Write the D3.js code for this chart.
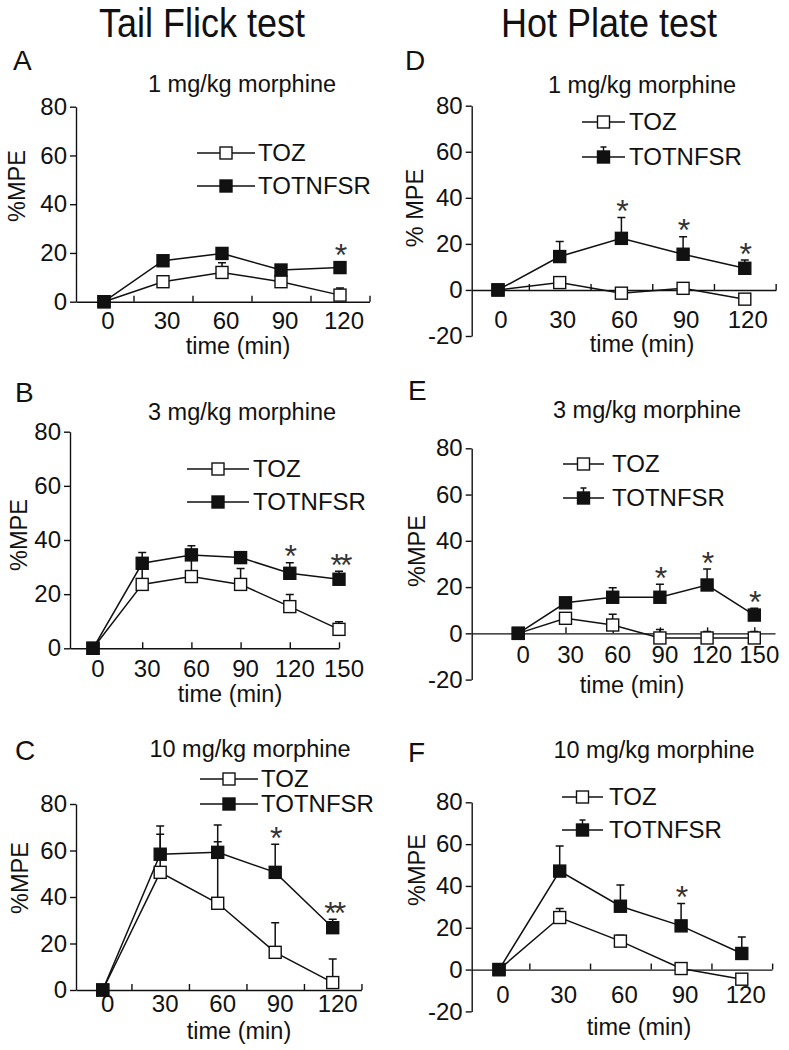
<!DOCTYPE html>
<html>
<head>
<meta charset="utf-8">
<script src="https://cdn.jsdelivr.net/npm/d3@7"></script>
<style>
  body { margin: 0; background: #fff; }
  svg { display: block; }
</style>
</head>
<body>
<svg id="chart" width="789" height="1050"></svg>
<script>
// ---------------- DATA ----------------
const columnTitles = ["Tail Flick test", "Hot Plate test"];
const panelLetters = ["A", "B", "C", "D", "E", "F"];
const doseLabels = ["1 mg/kg morphine", "3 mg/kg morphine", "10 mg/kg morphine"];
const seriesNames = ["TOZ", "TOTNFSR"];
const xAxisTitle = "time (min)";
const yAxisTitles = ["%MPE", "% MPE"];

const time5 = [0, 30, 60, 90, 120];
const time6 = [0, 30, 60, 90, 120, 150];
const yTicksTailFlick = [0, 20, 40, 60, 80];
const yTicksHotPlate = [-20, 0, 20, 40, 60, 80];
const xTickMarksMid = [15, 45, 75, 105, 135];
const xTickMarksOn = [30, 60, 90, 120, 150];

// Panel A: Tail flick, 1 mg/kg
const tozA = [0, 8.2, 12.0, 8.2, 2.7];
const tozErrA = [0, 1.5, 4.0, 1.5, 2.9];
const totA = [0, 16.8, 19.8, 13.0, 14.0];
const totErrA = [0, 1.5, 2.2, 1.5, 2.4];
const sigA = ["", "", "", "", "*"];

// Panel B: Tail flick, 3 mg/kg
const tozB = [0, 23.6, 26.5, 23.6, 15.4, 7.0];
const tozErrB = [0, 6.0, 7.0, 5.9, 4.5, 2.8];
const totB = [0, 31.4, 34.5, 33.5, 27.7, 25.5];
const totErrB = [0, 4.0, 3.4, 1.5, 3.9, 3.0];
const sigB = ["", "", "", "", "*", "**"];

// Panel C: Tail flick, 10 mg/kg
const tozC = [0, 50.6, 37.3, 16.2, 3.2];
const tozErrC = [0, 16.4, 26.5, 12.7, 10.1];
const totC = [0, 58.4, 59.2, 50.6, 26.8];
const totErrC = [0, 12.1, 11.8, 12.1, 3.6];
const sigC = ["", "", "", "*", "**"];

// Panel D: Hot plate, 1 mg/kg
const tozD = [0, 3.2, -1.4, 0.7, -4.0];
const tozErrD = [0, 1, 1, 1, 1];
const totD = [0, 14.5, 22.4, 15.5, 9.4];
const totErrD = [0, 6.5, 9.1, 7.6, 3.6];
const sigD = ["", "", "*", "*", "*"];

// Panel E: Hot plate, 3 mg/kg
const tozE = [0, 6.5, 3.6, -2.0, -2.0, -2.0];
const tozErrE = [0, 1, 4.6, 3.7, 2.8, 2.8];
const totE = [0, 13.2, 15.6, 15.6, 20.9, 7.9];
const totErrE = [0, 1, 4.1, 5.6, 6.9, 2.9];
const sigE = ["", "", "", "*", "*", "*"];

// Panel F: Hot plate, 10 mg/kg
const tozF = [0, 24.9, 13.6, 0.5, -4.6];
const tozErrF = [0, 4.3, 2.8, 1, 1];
const totF = [0, 47.1, 30.3, 20.9, 7.7];
const totErrF = [0, 12, 10.1, 10.7, 7.9];
const sigF = ["", "", "", "*", ""];

// ---------------- LAYOUT (pixels) ----------------
const FONT = '"Liberation Sans", Arial, Helvetica, sans-serif';
const INK = "#111";

const layouts = [
  { x0: 104, step: 59, axStart: 76, axEnd: 369.5, yTop: 106.7, yBottom: 301.7, labY: 329, labDx: 4,
    letter: [13, 70], title: [242, 92], xTitle: [238, 354], yTitle: [25, 186],
    leg: { x0: 197, x1: 255, y1: 153, y2: 186, tx: 258 }, legCap: false },
  { x0: 93, step: 49.2, axStart: 70, axEnd: 339, yTop: 431.7, yBottom: 648.3, labY: 677, labDx: 5,
    letter: [15, 402], title: [242, 420], xTitle: [230, 702], yTitle: [27, 535],
    leg: { x0: 187, x1: 249, y1: 469, y2: 502, tx: 253 }, legCap: false },
  { x0: 102.7, step: 57.5, axStart: 76, axEnd: 361.5, yTop: 804, yBottom: 990, labY: 1012, labDx: 5,
    letter: [15, 760], title: [250, 757], xTitle: [239, 1039], yTitle: [28, 878],
    leg: { x0: 200, x1: 258, y1: 779, y2: 804, tx: 261 }, legCap: false },
  { x0: 498, step: 61.7, axStart: 471.7, axEnd: 776, yTop: 105.7, yBottom: 336, labY: 328, labDx: 3,
    letter: [405, 70], title: [642, 93], xTitle: [642, 352], yTitle: [423, 208],
    leg: { x0: 582, x1: 625, y1: 122, y2: 157, tx: 629 }, legCap: true },
  { x0: 518.3, step: 47.2, axStart: 471.7, axEnd: 775, yTop: 448.3, yBottom: 679.6, labY: 663, labDx: 5,
    letter: [408, 400], title: [647, 418], xTitle: [632, 693], yTitle: [425, 551],
    leg: { x0: 563, x1: 604, y1: 464, y2: 498, tx: 612 }, legCap: true },
  { x0: 499, step: 60.7, axStart: 471.7, axEnd: 772, yTop: 802.3, yBottom: 1011.4, labY: 1003, labDx: 4,
    letter: [408, 762], title: [654, 758], xTitle: [639, 1035], yTitle: [425, 870],
    leg: { x0: 562, x1: 603, y1: 797, y2: 830, tx: 609 }, legCap: true }
];

const panels = [
  { times: time5, toz: tozA, tozErr: tozErrA, tot: totA, totErr: totErrA, sig: sigA, yTicks: yTicksTailFlick, ticks: xTickMarksMid, letter: panelLetters[0], dose: doseLabels[0], yLab: yAxisTitles[0] },
  { times: time6, toz: tozB, tozErr: tozErrB, tot: totB, totErr: totErrB, sig: sigB, yTicks: yTicksTailFlick, ticks: xTickMarksOn, letter: panelLetters[1], dose: doseLabels[1], yLab: yAxisTitles[0] },
  { times: time5, toz: tozC, tozErr: tozErrC, tot: totC, totErr: totErrC, sig: sigC, yTicks: yTicksTailFlick, ticks: xTickMarksMid, letter: panelLetters[2], dose: doseLabels[2], yLab: yAxisTitles[0] },
  { times: time5, toz: tozD, tozErr: tozErrD, tot: totD, totErr: totErrD, sig: sigD, yTicks: yTicksHotPlate, ticks: xTickMarksMid, letter: panelLetters[3], dose: doseLabels[0], yLab: yAxisTitles[1] },
  { times: time6, toz: tozE, tozErr: tozErrE, tot: totE, totErr: totErrE, sig: sigE, yTicks: yTicksHotPlate, ticks: xTickMarksOn, letter: panelLetters[4], dose: doseLabels[1], yLab: yAxisTitles[0] },
  { times: time5, toz: tozF, tozErr: tozErrF, tot: totF, totErr: totErrF, sig: sigF, yTicks: yTicksHotPlate, ticks: xTickMarksMid, letter: panelLetters[5], dose: doseLabels[2], yLab: yAxisTitles[0] }
];

// ---------------- DRAW ----------------
const svg = d3.select("#chart");
const MS = 12;       // marker size
const CAP = 8;       // error bar cap width
const AST = 32;      // asterisk font size

function txt(g, x, y, s, size, anchor) {
  return g.append("text")
    .attr("x", x).attr("y", y)
    .attr("font-family", FONT).attr("font-size", size)
    .attr("fill", INK).attr("text-anchor", anchor || "start")
    .text(s);
}

// column titles
[[202, 37], [609, 37]].forEach((p, i) => {
  svg.append("text")
    .attr("transform", `translate(${p[0]},${p[1]}) scale(0.9,1)`)
    .attr("font-family", FONT).attr("font-size", 40).attr("fill", INK)
    .attr("text-anchor", "middle").text(columnTitles[i]);
});

function drawPanel(L, D) {
  const g = svg.append("g");
  const toMin = px => (px - L.x0) / L.step * 30;
  const x = d3.scaleLinear().domain([toMin(L.axStart), toMin(L.axEnd)]).range([L.axStart, L.axEnd]);
  const y = d3.scaleLinear().domain([d3.min(D.yTicks), 80]).range([L.yBottom, L.yTop]);

  // y axis
  const ya = g.append("g").attr("transform", `translate(${L.axStart},0)`)
    .call(d3.axisLeft(y).tickValues(D.yTicks).tickSize(6).tickSizeOuter(0).tickPadding(3).tickFormat(d => String(d)));
  ya.selectAll("text").attr("font-size", 24).attr("font-family", FONT).attr("fill", INK);
  ya.selectAll("line,path").attr("stroke", INK).attr("stroke-width", 1.4);

  // x axis at y = 0 (ticks point inward)
  const xa = g.append("g").attr("transform", `translate(0,${y(0)})`)
    .call(d3.axisBottom(x).tickValues(D.ticks.filter(t => t <= x.domain()[1] + 0.5)).tickSize(-6).tickSizeOuter(0).tickFormat(""));
  xa.selectAll("line,path").attr("stroke", INK).attr("stroke-width", 1.4);

  // x tick labels
  g.selectAll("text.xl").data(D.times).join("text").attr("class", "xl")
    .attr("x", t => x(t) + L.labDx).attr("y", L.labY)
    .attr("text-anchor", "middle").attr("font-family", FONT).attr("font-size", 24).attr("fill", INK)
    .text(t => String(t));

  // titles
  txt(g, L.letter[0], L.letter[1], D.letter, 28);
  txt(g, L.title[0], L.title[1], D.dose, 23.5, "middle");
  txt(g, L.xTitle[0], L.xTitle[1], xAxisTitle, 23.5, "middle");
  g.append("text")
    .attr("transform", `translate(${L.yTitle[0]},${L.yTitle[1]}) rotate(-90)`)
    .attr("font-family", FONT).attr("font-size", 23.5).attr("fill", INK)
    .attr("text-anchor", "middle").text(D.yLab);

  const toz = D.times.map((t, i) => ({ t, v: D.toz[i], e: D.tozErr[i] }));
  const tot = D.times.map((t, i) => ({ t, v: D.tot[i], e: D.totErr[i] }));
  const line = d3.line().x(d => x(d.t)).y(d => y(d.v));

  [toz, tot].forEach(s => {
    g.append("path").attr("d", line(s)).attr("fill", "none").attr("stroke", INK).attr("stroke-width", 1.5);
  });
  // error bars (upper)
  [toz, tot].forEach(s => {
    g.selectAll(null).data(s.filter(d => d.e > 0)).join("path")
      .attr("d", d => `M${x(d.t)},${y(d.v)}V${y(d.v + d.e)}M${x(d.t) - CAP / 2},${y(d.v + d.e)}H${x(d.t) + CAP / 2}`)
      .attr("fill", "none").attr("stroke", INK).attr("stroke-width", 1.5);
  });
  // markers
  g.selectAll(null).data(toz).join("rect")
    .attr("x", d => x(d.t) - MS / 2).attr("y", d => y(d.v) - MS / 2)
    .attr("width", MS).attr("height", MS)
    .attr("fill", "#fff").attr("stroke", INK).attr("stroke-width", 1.4);
  g.selectAll(null).data(tot).join("rect")
    .attr("x", d => x(d.t) - MS / 2).attr("y", d => y(d.v) - MS / 2)
    .attr("width", MS).attr("height", MS)
    .attr("fill", INK).attr("stroke", INK).attr("stroke-width", 1.4);

  // significance asterisks
  g.selectAll(null).data(tot.map((d, i) => ({ ...d, s: D.sig[i] })).filter(d => d.s)).join("text")
    .attr("x", d => x(d.t) + 1)
    .attr("y", d => y(d.v + d.e) - 14 + 0.58 * AST)
    .attr("text-anchor", "middle").attr("font-family", FONT).attr("font-size", AST)
    .attr("fill", "#333").attr("letter-spacing", d => d.s.length > 1 ? -3 : 0)
    .text(d => d.s);

  // legend
  const lg = L.leg;
  [lg.y1, lg.y2].forEach((ly, i) => {
    const mx = (lg.x0 + lg.x1) / 2;
    g.append("line").attr("x1", lg.x0).attr("x2", lg.x1).attr("y1", ly).attr("y2", ly)
      .attr("stroke", INK).attr("stroke-width", 1.5);
    if (i === 1 && L.legCap) {
      g.append("path").attr("d", `M${mx},${ly}V${ly - MS / 2 - 4}M${mx - 3},${ly - MS / 2 - 4}H${mx + 3}`)
        .attr("stroke", INK).attr("stroke-width", 1.4).attr("fill", "none");
    }
    g.append("rect").attr("x", mx - MS / 2).attr("y", ly - MS / 2).attr("width", MS).attr("height", MS)
      .attr("fill", i === 0 ? "#fff" : INK).attr("stroke", INK).attr("stroke-width", 1.4);
    txt(g, lg.tx, ly + 8, seriesNames[i], 24);
  });
}

layouts.forEach((L, i) => drawPanel(L, panels[i]));
</script>
</body>
</html>
